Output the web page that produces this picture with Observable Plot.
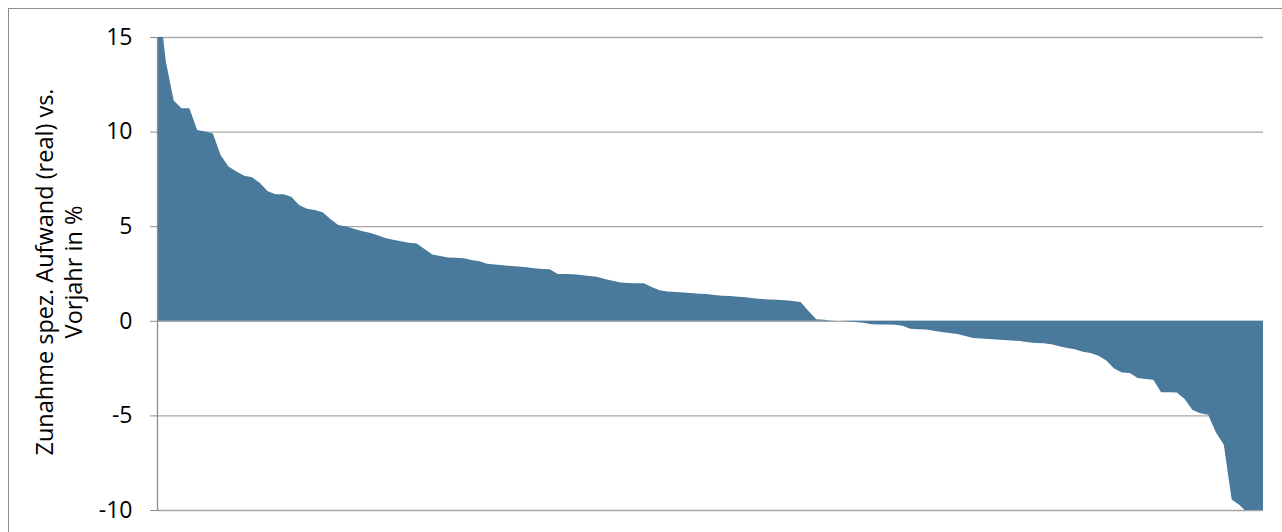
<!DOCTYPE html>
<html>
<head>
<meta charset="utf-8">
<script src="https://cdn.jsdelivr.net/npm/d3@7"></script>
<script src="https://cdn.jsdelivr.net/npm/@observablehq/plot@0.6"></script>
<style>
  html, body { margin: 0; padding: 0; background: #fff; overflow: hidden; }
  #wrap { position: relative; width: 1282px; height: 532px; }
  #frame { position: absolute; left: 8px; top: 8px; width: 1300px; height: 560px; border: 1px solid #8c8c8c; box-sizing: border-box; z-index: 2; pointer-events: none; }
  #chart { position: absolute; left: 0; top: 0; z-index: 1; }
</style>
</head>
<body>
<div id="wrap"><div id="chart"></div><div id="frame"></div></div>
<script>
// Sorted change values (%), one per entity
const values = [
  17.3, 13.7, 11.65, 11.24, 11.24, 10.09, 10.0, 9.9, 8.75, 8.15,
  7.89, 7.66, 7.59, 7.28, 6.85, 6.69, 6.69, 6.55, 6.12, 5.92,
  5.86, 5.74, 5.38, 5.07, 4.98, 4.86, 4.74, 4.65, 4.52, 4.37,
  4.28, 4.20, 4.13, 4.08, 3.80, 3.50, 3.42, 3.35, 3.33, 3.31,
  3.21, 3.15, 3.01, 2.97, 2.93, 2.90, 2.87, 2.83, 2.78, 2.74,
  2.72, 2.47, 2.47, 2.46, 2.42, 2.37, 2.33, 2.21, 2.12, 2.03,
  2.00, 1.99, 1.98, 1.78, 1.61, 1.55, 1.52, 1.50, 1.47, 1.43,
  1.41, 1.36, 1.33, 1.31, 1.27, 1.24, 1.19, 1.15, 1.13, 1.11,
  1.09, 1.05, 1.00, 0.52, 0.08, 0.05, 0.02, 0.00, -0.03, -0.06,
  -0.10, -0.18, -0.19, -0.20, -0.21, -0.26, -0.42, -0.44, -0.46, -0.53,
  -0.59, -0.64, -0.70, -0.80, -0.91, -0.94, -0.96, -0.99, -1.02, -1.04,
  -1.07, -1.14, -1.17, -1.19, -1.24, -1.34, -1.44, -1.50, -1.64, -1.70,
  -1.85, -2.10, -2.52, -2.73, -2.76, -3.02, -3.07, -3.12, -3.77, -3.78,
  -3.79, -4.13, -4.72, -4.88, -4.97, -5.90, -6.55, -9.44, -9.73, -10.15,
  -11.0, -12.0
];
const categories = values.map((_, i) => i + 1);
const yTicks = [-10, -5, 0, 5, 10, 15];
const yDomain = [-10, 15];
const yTitle = "Zunahme spez. Aufwand (real) vs.\nVorjahr in %";

const data = categories.map((c, i) => ({ c, v: values[i] }));

const chart = Plot.plot({
  width: 1282,
  height: 532,
  marginLeft: 158,
  marginRight: 19,
  marginTop: 37,
  marginBottom: 22,
  style: { fontFamily: "'Open Sans', sans-serif", fontSize: "23px", color: "#000", background: "transparent", overflow: "visible" },
  x: { domain: [categories[0], categories[categories.length - 1]], axis: null },
  y: { domain: yDomain, ticks: yTicks },
  marks: [
    Plot.ruleY(yTicks, { stroke: "#a6a6a6", strokeWidth: 1.3 }),
    Plot.areaY(data, { x: "c", y: "v", fill: "#4a7a9b", clip: true }),
    Plot.ruleX([categories[0]], { stroke: "#8c8c8c", strokeWidth: 1.3, dx: -1 }),
    Plot.axisY({ ticks: yTicks, tickSize: 8, tickPadding: 18, stroke: "#8c8c8c", fontSize: 23, label: null, tickFormat: d => String(d) }),
    Plot.text([yTitle], { frameAnchor: "left", text: d => d, rotate: -90, textAnchor: "middle", lineAnchor: "middle", dx: -100, dy: -2, fontSize: 23.5, lineHeight: 1.2, fill: "#000" })
  ]
});
document.getElementById("chart").appendChild(chart);
</script>
</body>
</html>
